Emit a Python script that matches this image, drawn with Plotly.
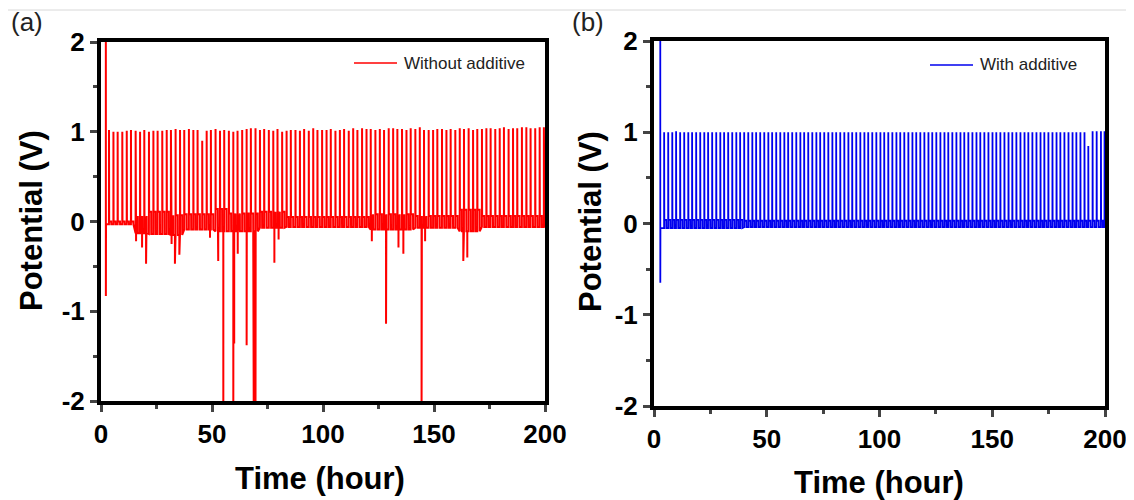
import numpy as np
import plotly.graph_objects as go

# ---------------- data ----------------
# panel (a): without additive
a_first_drop_t = 2.2
a_first_drop_v = -0.83
a_spike_t = [3.6, 5.6, 7.5, 9.6, 11.6, 13.5, 15.6, 17.6, 19.5, 21.6,
             23.6, 25.5, 27.6, 29.6, 31.5, 33.6, 35.6, 37.5, 39.6, 41.6,
             43.5, 45.6, 47.6, 49.5, 51.6, 53.6, 55.5, 57.6, 59.6, 61.5,
             63.6, 65.6, 67.5, 69.6, 71.6, 73.5, 75.6, 77.6, 79.5, 81.6,
             83.6, 85.5, 87.6, 89.6, 91.5, 93.6, 95.6, 97.5, 99.6, 101.6,
             103.5, 105.6, 107.6, 109.5, 111.6, 113.6, 115.5, 117.6, 119.6, 121.5,
             123.6, 125.6, 127.5, 129.6, 131.6, 133.5, 135.6, 137.6, 139.5, 141.6,
             143.6, 145.5, 147.6, 149.6, 151.5, 153.6, 155.6, 157.5, 159.6, 161.6,
             163.5, 165.6, 167.6, 169.5, 171.6, 173.6, 175.5, 177.6, 179.6, 181.5,
             183.6, 185.6, 187.5, 189.6, 191.6, 193.5, 195.6, 197.6, 199.5]
a_spike_v = [1.02, 1.00, 1.00, 1.00, 1.01, 1.02, 1.01, 1.00, 1.02, 1.00,
             1.01, 1.01, 1.01, 1.02, 1.02, 1.03, 1.02, 1.02, 1.03, 1.02,
             1.02, 0.90, 1.01, 1.02, 1.03, 1.01, 1.02, 1.01, 1.00, 1.01,
             1.02, 1.03, 1.04, 1.04, 1.02, 1.03, 1.02, 1.01, 1.03, 1.00,
             1.01, 1.02, 1.02, 1.01, 1.03, 1.01, 1.04, 1.02, 1.02, 1.02,
             1.03, 1.01, 1.02, 1.03, 1.01, 1.04, 1.02, 1.04, 1.03, 1.03,
             1.02, 1.03, 1.02, 1.04, 1.04, 1.03, 1.03, 1.02, 1.04, 1.03,
             1.05, 1.02, 1.02, 1.02, 1.03, 1.03, 1.02, 1.03, 1.02, 1.04,
             1.03, 1.04, 1.02, 1.03, 1.03, 1.04, 1.04, 1.03, 1.04, 1.05,
             1.03, 1.04, 1.04, 1.05, 1.05, 1.04, 1.04, 1.05, 1.05]
# baseline band (stripping / plating plateau) per time segment
a_seg_start = [0, 14, 21, 30, 37, 50, 56, 70, 82, 120, 140, 160, 170]
a_seg_hi = [0.00, 0.06, 0.11, 0.07, 0.08, 0.14, 0.09, 0.11, 0.05, 0.08, 0.06, 0.13, 0.06]
a_seg_lo = [-0.03, -0.13, -0.14, -0.15, -0.09, -0.11, -0.11, -0.07, -0.06, -0.09, -0.07, -0.11, -0.06]
# downward spikes (short circuits / noise)
a_dip_t = [15.8, 18.5, 20.3, 31.8, 33.3, 35.3, 49.1, 52.8, 55.1, 59.6, 60.0, 61.6,
           65.6, 68.8, 69.6, 78.1, 80.0, 122.0, 128.4, 134.0, 136.2, 144.4, 146.0,
           163.2, 165.0]
a_dip_v = [-0.22, -0.29, -0.47, -0.25, -0.47, -0.37, -0.18, -0.44, -2.1, -2.1, -1.36, -0.36,
           -1.38, -2.1, -2.1, -0.46, -0.20, -0.22, -1.14, -0.29, -0.36, -2.1, -0.22,
           -0.44, -0.40]

# panel (b): with additive
b_first_drop_t = 2.8
b_first_drop_v = -0.65
b_spike_t = [4.5, 6.3, 8.1, 9.8, 11.6, 13.4, 15.2, 16.9, 18.7, 20.5,
             22.3, 24.0, 25.8, 27.6, 29.4, 31.1, 32.9, 34.7, 36.5, 38.2,
             40.0, 41.8, 43.6, 45.3, 47.1, 48.9, 50.7, 52.4, 54.2, 56.0,
             57.8, 59.5, 61.3, 63.1, 64.9, 66.6, 68.4, 70.2, 72.0, 73.7,
             75.5, 77.3, 79.1, 80.8, 82.6, 84.4, 86.2, 87.9, 89.7, 91.5,
             93.3, 95.0, 96.8, 98.6, 100.4, 102.1, 103.9, 105.7, 107.5, 109.2,
             111.0, 112.8, 114.6, 116.3, 118.1, 119.9, 121.7, 123.4, 125.2, 127.0,
             128.8, 130.5, 132.3, 134.1, 135.9, 137.6, 139.4, 141.2, 143.0, 144.7,
             146.5, 148.3, 150.1, 151.8, 153.6, 155.4, 157.2, 158.9, 160.7, 162.5,
             164.3, 166.0, 167.8, 169.6, 171.4, 173.1, 174.9, 176.7, 178.5, 180.2,
             182.0, 183.8, 185.6, 187.3, 189.1, 190.9, 192.6, 194.5, 196.3, 198.2,
             199.8]
b_spike_v = [1.00, 1.00, 1.00, 1.01, 1.00, 1.00, 1.00, 1.00, 1.00, 1.00,
             1.00, 1.00, 1.00, 1.00, 1.00, 1.00, 1.00, 1.00, 1.00, 1.00,
             1.00, 1.00, 1.00, 1.00, 1.00, 1.00, 1.00, 1.00, 1.00, 1.00,
             1.00, 1.00, 1.00, 1.00, 1.00, 1.00, 1.00, 1.00, 1.00, 1.00,
             1.00, 1.00, 1.00, 1.00, 1.00, 1.00, 1.00, 1.00, 1.00, 1.00,
             1.00, 1.00, 1.00, 1.00, 1.00, 1.00, 1.00, 1.00, 1.00, 1.00,
             1.00, 1.00, 1.00, 1.00, 1.00, 1.00, 1.00, 1.00, 1.00, 1.00,
             1.00, 1.00, 1.00, 1.00, 1.00, 1.00, 1.00, 1.00, 1.00, 1.00,
             1.00, 1.00, 1.00, 1.00, 1.00, 1.00, 1.00, 1.00, 1.00, 1.00,
             1.00, 1.00, 1.00, 1.00, 1.00, 1.00, 1.00, 1.00, 1.00, 1.00,
             1.00, 1.00, 1.00, 1.00, 1.00, 1.00, 0.85, 1.01, 1.01, 1.01,
             1.01]
b_seg_start = [0, 40, 100]
b_seg_hi = [0.04, 0.03, 0.03]
b_seg_lo = [-0.05, -0.04, -0.04]
b_dip_t = []
b_dip_v = []

x_ticks = [0, 50, 100, 150, 200]
y_ticks = [-2, -1, 0, 1, 2]
y_ticktext = ["-2", "-1", "0", "1", "2"]


def build_curve(drop_t, drop_v, spike_t, spike_v, seg_start, seg_hi, seg_lo, dip_t, dip_v):
    # turn the read values into a polyline (time, potential)
    def band(t):
        k = max(0, np.searchsorted(seg_start, t, side="right") - 1)
        return seg_hi[k], seg_lo[k]

    pts = [(0.0, 2.6), (drop_t - 0.02, 2.6), (drop_t, drop_v), (drop_t + 0.05, band(drop_t)[1])]
    for i, t in enumerate(spike_t):
        hi, lo = band(t)
        nxt = spike_t[i + 1] if i + 1 < len(spike_t) else 200.0
        mid = (t + nxt) / 2
        pts += [(t - 0.02, lo), (t, spike_v[i]), (t + 0.08, hi), (mid, hi), (mid + 0.03, lo)]
    for t, v in zip(dip_t, dip_v):
        hi, lo = band(t)
        pts += [(t - 0.01, lo), (t, v), (t + 0.01, lo)]
    pts.sort(key=lambda p: p[0])
    return [p[0] for p in pts], [p[1] for p in pts]


ax, ay = build_curve(a_first_drop_t, a_first_drop_v, a_spike_t, a_spike_v,
                     a_seg_start, a_seg_hi, a_seg_lo, a_dip_t, a_dip_v)
bx, by = build_curve(b_first_drop_t, b_first_drop_v, b_spike_t, b_spike_v,
                     b_seg_start, b_seg_hi, b_seg_lo, b_dip_t, b_dip_v)

# the page body has an 8px margin, so the figure is drawn 8px in from the corner
OFF = 8
W, H = 1134 - OFF, 500 - OFF


def px(x):
    return (x - OFF) / W


def py(y):
    return 1 - (y - OFF) / H


fig = go.Figure()
fig.add_trace(go.Scatter(x=ax, y=ay, mode="lines", line=dict(color="#ff0000", width=2.0),
                         xaxis="x", yaxis="y", showlegend=False))
fig.add_trace(go.Scatter(x=bx, y=by, mode="lines", line=dict(color="#0000ee", width=1.8),
                         xaxis="x2", yaxis="y2", showlegend=False))

tickfont = dict(family="Liberation Sans, Arial", size=26, color="black", weight="bold")
xcommon = dict(range=[0, 200], tickvals=x_ticks, ticks="outside", ticklen=7, tickwidth=3,
               linecolor="black", linewidth=4, mirror=True, showgrid=False, zeroline=False,
               tickfont=tickfont, automargin=False,
               minor=dict(ticks="outside", ticklen=4, tickwidth=3, dtick=25, tick0=0))
ycommon = dict(range=[-2, 2], tickvals=y_ticks, ticktext=y_ticktext, ticks="outside", ticklen=7,
               tickwidth=3, linecolor="black", linewidth=4, mirror=True, showgrid=False,
               zeroline=False, tickfont=tickfont, automargin=False,
               minor=dict(ticks="outside", ticklen=4, tickwidth=3, dtick=0.5, tick0=0))

fig.update_layout(
    template="none",
    width=W, height=H, margin=dict(l=0, r=0, t=0, b=0, pad=0), autosize=False,
    paper_bgcolor="white", plot_bgcolor="white",
    xaxis=dict(domain=[px(101), px(545)], anchor="y", **xcommon),
    yaxis=dict(domain=[py(401), py(42)], anchor="x", **ycommon),
    xaxis2=dict(domain=[px(654), px(1105)], anchor="y2", **xcommon),
    yaxis2=dict(domain=[py(406), py(41)], anchor="x2", **ycommon),
)

titlefont = dict(family="Liberation Sans, Arial", size=31, color="black", weight="bold")
annots = [
    dict(text="(a)", x=px(27), y=py(22), font=dict(family="Liberation Sans, Arial", size=26, color="#222")),
    dict(text="(b)", x=px(588), y=py(22), font=dict(family="Liberation Sans, Arial", size=26, color="#222")),
    dict(text="Potential (V)", x=px(32), y=py(221), textangle=-90, font=titlefont),
    dict(text="Potential (V)", x=px(590), y=py(222), textangle=-90, font=titlefont),
    dict(text="Time (hour)", x=px(320), y=py(478), font=titlefont),
    dict(text="Time (hour)", x=px(879), y=py(482), font=titlefont),
    dict(text="Without additive", x=px(402), y=py(63), xanchor="left",
         font=dict(family="Liberation Sans, Arial", size=17, color="#222")),
    dict(text="With additive", x=px(978), y=py(65), xanchor="left",
         font=dict(family="Liberation Sans, Arial", size=17, color="#222")),
]
for a in annots:
    a.setdefault("xanchor", "center")
    fig.add_annotation(xref="paper", yref="paper", yanchor="middle", showarrow=False, **a)

# legend samples and the thin frame line at the top of the screenshot
fig.add_shape(type="line", xref="paper", yref="paper", x0=px(354), x1=px(397), y0=py(63), y1=py(63),
              line=dict(color="#ff0000", width=1.5))
fig.add_shape(type="line", xref="paper", yref="paper", x0=px(930), x1=px(973), y0=py(65), y1=py(65),
              line=dict(color="#0000ee", width=1.5))
fig.add_shape(type="line", xref="paper", yref="paper", x0=0, x1=1, y0=py(10), y1=py(10),
              line=dict(color="#d8d8d8", width=1))

fig.write_html("out.html")
